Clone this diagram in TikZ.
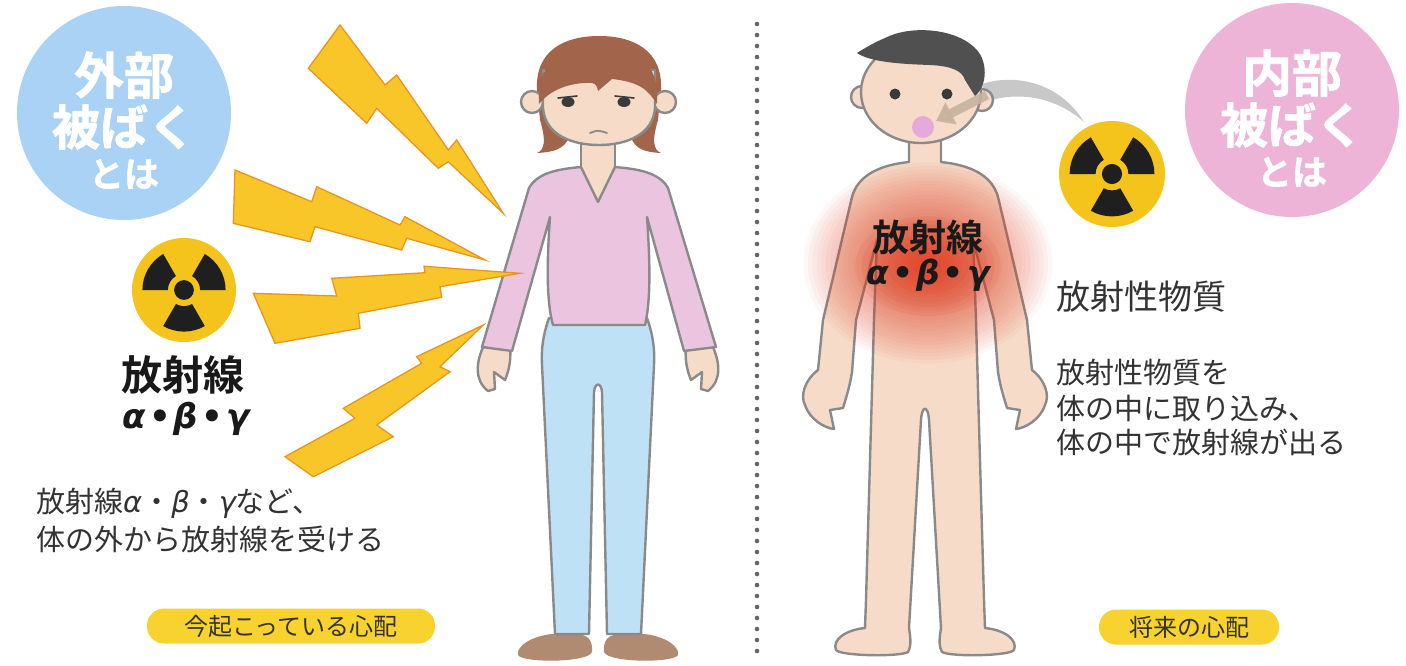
\documentclass[tikz,border=0pt]{standalone}
\usepackage{fontspec}
\setmainfont{Noto Sans CJK JP}[BoldFont={Noto Sans CJK JP Bold}]
\newfontfamily\jpheavy{Noto Sans CJK JP Bold}[FakeBold=1.6]
\newfontfamily\grk{DejaVu Sans}
\usetikzlibrary{arrows.meta}

\definecolor{bubbleblue}{HTML}{A9D2F5}
\definecolor{bubblepink}{HTML}{EEB4D8}
\definecolor{radyellow}{HTML}{F5C41C}
\definecolor{boltyellow}{HTML}{F9C62A}
\definecolor{boltorange}{HTML}{E8951E}
\definecolor{pillyellow}{HTML}{F8D22E}
\definecolor{skin}{HTML}{F6DBC8}
\definecolor{hairbrown}{HTML}{A2644A}
\definecolor{shirtpink}{HTML}{EBC5DF}
\definecolor{pantsblue}{HTML}{BEE1F6}
\definecolor{shoebrown}{HTML}{B08B72}
\definecolor{linegray}{HTML}{8A8A8A}
\definecolor{manhair}{HTML}{505050}
\definecolor{eyedark}{HTML}{3A3A3A}
\definecolor{mouthpink}{HTML}{E6AADA}
\definecolor{arrowtan}{HTML}{C6B39E}
\definecolor{curvegray}{HTML}{C8C8C8}
\definecolor{glowred}{HTML}{E23A1E}
\definecolor{textgray}{HTML}{333333}
\definecolor{dotgray}{HTML}{666666}

\newcommand\fsz[1]{\fontsize{#1}{#1}\selectfont}
% alpha, beta, gamma with middle dots
\newcommand\abgbold{{\grk\bfseries\itshape α\kern3pt\upshape•\kern3pt\itshape β\kern3pt\upshape•\kern3pt\itshape γ}}
\newcommand\abglight{{\grk\itshape α}・{\grk\itshape β}・{\grk\itshape γ}}

% radiation sign: centre x, centre y, radius
\newcommand\radsign[3]{%
  \fill[radyellow] (#1,#2) circle (#3);
  \fill[black!88] (#1,#2) circle ({0.19*#3});
  \foreach \a in {60,180,300}
    \fill[black!88] ([shift={(\a:{0.31*#3})}]#1,#2) -- ([shift={(\a:{0.8*#3})}]#1,#2)
      arc[start angle=\a, end angle=\a+60, radius={0.8*#3}]
      -- ([shift={(\a+60:{0.31*#3})}]#1,#2)
      arc[start angle=\a+60, end angle=\a, radius={0.31*#3}] -- cycle;
}

\tikzset{
  outl/.style={draw=linegray, line width=2.4pt},
  bolt/.style={fill=boltyellow, draw=boltorange, line width=1.3pt, line join=miter},
  bubble/.style={circle, inner sep=0pt, minimum size=214pt},
  bubbletext/.style={text=white, inner sep=0pt},
  pill/.style={fill=pillyellow, rounded corners=17pt, minimum height=35pt, inner sep=0pt,
    text=textgray, font=\fsz{24}},
  caption/.style={anchor=west, inner sep=0pt, text=textgray, font=\fsz{29}},
}

\begin{document}
\begin{tikzpicture}[x=1pt, y=-1pt, line cap=round, line join=round]
\fill[white] (0,0) rectangle (1406,665);
\useasboundingbox (0,0) rectangle (1406,665);

% ---- left half: external exposure ----
\node[bubble, fill=bubbleblue] (extbub) at (124,113) {};
\node[bubbletext, font=\jpheavy\fsz{50}] (extA) at (124,75) {外部};
\node[bubbletext, font=\jpheavy\fsz{48}] (extB) at (124,127) {被ばく};
\node[bubbletext, font=\jpheavy\fsz{35}] (extC) at (124,174) {とは};

\radsign{184}{290}{52}
\node[inner sep=0pt, font=\bfseries\fsz{41}, text=black!90] (raylabel) at (183,375) {放射線};
\node[inner sep=0pt, font=\fsz{34}, text=black!90] (rayabg) at (186,419) {\abgbold};

\node[caption] (extcapA) at (36,503) {放射線\abglight など、};
\node[caption] (extcapB) at (36,539) {体の外から放射線を受ける};
\node[pill, minimum width=288pt] (nowpill) at (291,626) {今起こっている心配};

% woman
\fill[shoebrown] (592,652) .. controls (593,640) and (588,634) .. (574,634) -- (552,634)
  .. controls (532,636) and (516,646) .. (518,655) .. controls (522,663) and (588,663) .. (592,652) -- cycle;
\fill[shoebrown] (604,652) .. controls (603,640) and (608,634) .. (622,634) -- (644,634)
  .. controls (664,636) and (680,646) .. (678,655) .. controls (674,663) and (608,663) .. (604,652) -- cycle;
\filldraw[outl, fill=pantsblue] (549,318) .. controls (543,335) and (541,350) .. (542,365) -- (555,634)
  -- (589,634) -- (594,392) .. controls (595,382) and (601,382) .. (602,392) -- (607,634) -- (641,634)
  -- (654,365) .. controls (655,350) and (653,335) .. (647,318) -- cycle;
\filldraw[outl, fill=skin] (484,345) .. controls (476,362) and (474,380) .. (488,391) -- (495,389)
  -- (494,372) -- (505,380) .. controls (510,368) and (511,358) .. (510,345) -- cycle;
\filldraw[outl, fill=skin] (712,345) .. controls (720,362) and (722,380) .. (708,391) -- (701,389)
  -- (702,372) -- (691,380) .. controls (686,368) and (685,358) .. (686,345) -- cycle;
\fill[skin] (581,135) -- (581,170) -- (598,204) -- (615,170) -- (615,135) -- cycle;
\filldraw[outl, fill=shirtpink] (581,167) .. controls (560,169) and (538,172) .. (529,188)
  -- (482,347) -- (512,351) -- (550,217) .. controls (547,260) and (546,300) .. (553,325)
  -- (645,325) .. controls (651,300) and (650,260) .. (647,217) -- (684,351) -- (716,347)
  -- (668,188) .. controls (659,172) and (637,169) .. (615,167) -- (598,202) -- cycle;
\draw[outl] (581,140) -- (581,167) (615,140) -- (615,167);
\fill[hairbrown] (537,153) .. controls (545,150) and (546,140) .. (540,120) -- (537,90)
  .. controls (535,50) and (565,36) .. (599,36) .. controls (633,36) and (663,50) .. (661,90)
  -- (658,120) .. controls (652,140) and (653,150) .. (661,153)
  .. controls (645,152) and (635,150) .. (630,135) -- (570,135)
  .. controls (565,150) and (553,152) .. (537,153) -- cycle;
\filldraw[outl, fill=skin] (532,102) circle (11) (665,102) circle (11);
\filldraw[outl, fill=skin] (543,70) -- (543,108) .. controls (545,135) and (572,145) .. (599,145)
  .. controls (626,145) and (653,135) .. (655,108) -- (655,70) -- cycle;
\fill[hairbrown] (539,104) .. controls (536,60) and (565,46) .. (599,46) .. controls (633,46) and (660,60) .. (657,104)
  .. controls (648,90) and (640,82) .. (612,79) -- (598,91) .. controls (597,86) and (596,84) .. (592,83)
  .. controls (570,82) and (550,90) .. (539,104) -- cycle;
\fill[eyedark] (568,102) ellipse [x radius=6.5, y radius=5] (624,102) ellipse [x radius=6.5, y radius=5];
\draw[eyedark, line width=1.6pt] (558,98) -- (577,96) (615,96) -- (634,98);
\draw[linegray, line width=1.8pt] (590,133) .. controls (598,130) .. (607,133);

% lightning bolts
\draw[bolt] (308.3,68.3) -- (340,25) -- (385,85) -- (396.7,75) -- (448.3,150) -- (456.7,140)
  -- (503.3,213.3) -- (448.3,161.7) -- (438.3,168.3) -- (376.7,108.3) -- (366.7,123.3) -- cycle;
\draw[bolt] (235,170) -- (311.7,201.7) -- (316.7,186.7) -- (400,225) -- (405,216.7) -- (485,260)
  -- (406.7,238.3) -- (401.7,250) -- (315,226.7) -- (310,241.7) -- (233.3,223.3) -- cycle;
\draw[bolt] (253.3,293.3) -- (336.7,296) -- (331.7,278.3) -- (425,272.7) -- (424,266.3) -- (520,273.3)
  -- (440,286.7) -- (441.7,297.3) -- (358.3,313.3) -- (360,328.3) -- (275,343.3) -- cycle;
\draw[bolt] (285,456.7) -- (355,418.3) -- (343.3,408.3) -- (421.7,363.3) -- (416.7,356.7) -- (483.3,325)
  -- (440,366.7) -- (450,371.7) -- (376.7,425) -- (393.3,436.7) -- (313.3,476.7) -- cycle;

% dotted divider
\foreach \k in {0,...,57}
  \fill[dotgray] (757,{24+11*\k}) circle (2.3);

% ---- right half: internal exposure ----
\node[bubble, fill=bubblepink] (intbub) at (1292,110) {};
\node[bubbletext, font=\jpheavy\fsz{50}] (intA) at (1292,73) {内部};
\node[bubbletext, font=\jpheavy\fsz{48}] (intB) at (1292,125) {被ばく};
\node[bubbletext, font=\jpheavy\fsz{35}] (intC) at (1292,172) {とは};

\radsign{1112}{174}{53}
\fill[curvegray] (982,84) .. controls (1012,74) and (1058,80) .. (1084,122)
  .. controls (1052,94) and (1014,92) .. (985,102) -- cycle;

% man
\filldraw[outl, fill=skin] (909,135) -- (909,162) .. controls (880,165) and (858,175) .. (852,197)
  -- (823,320) -- (818,370) .. controls (805,380) and (800,395) .. (805,405)
  .. controls (810,420) and (825,428) .. (834,429) -- (830,410) -- (843,408)
  .. controls (847,395) and (850,385) .. (852,372) -- (856,320) -- (877,240)
  -- (874,320) -- (866,600) -- (865,628) .. controls (845,630) and (832,640) .. (836,650)
  .. controls (840,656) and (900,657) .. (908,652) .. controls (912,645) and (910,635) .. (909,628)
  -- (921,420) .. controls (922,405) and (928,405) .. (929,420)
  -- (941,628) .. controls (940,635) and (938,645) .. (942,652)
  .. controls (950,657) and (1010,656) .. (1014,650) .. controls (1018,640) and (1005,630) .. (985,628)
  -- (984,600) -- (976,320) -- (973,240) -- (994,320) -- (998,372)
  .. controls (1000,385) and (1003,395) .. (1007,408) -- (1020,410) -- (1016,429)
  .. controls (1025,428) and (1040,420) .. (1045,405) .. controls (1050,395) and (1045,380) .. (1032,370)
  -- (1027,320) -- (998,197) .. controls (992,175) and (970,165) .. (941,162) -- (941,135) -- cycle;
% glow in the chest
\foreach \r in {1,...,26}
  \fill[glowred, opacity=0.04] (928,263) ellipse [x radius={10+4.4*\r}, y radius={7+3.6*\r}];
\foreach \r in {1,...,10}
  \fill[glowred, opacity=0.08] (928,266) ellipse [x radius={8+6.5*\r}, y radius={5+4.5*\r}];
\filldraw[outl, fill=skin] (862,97) circle (11) (982,100) circle (11);
\filldraw[outl, fill=skin] (921,92) ellipse [x radius=60, y radius=51];
\fill[manhair] (857,53) .. controls (870,62) and (900,64) .. (930,65) .. controls (950,66) and (962,70) .. (965,80)
  -- (975,96) .. controls (988,85) and (988,60) .. (975,48) .. controls (955,28) and (910,25) .. (885,38)
  .. controls (875,42) and (865,48) .. (857,53) -- cycle;
\fill[eyedark] (895,94) circle (5.5) (947,94) circle (5.5);
\fill[mouthpink] (923,127) circle (11);
\draw[arrowtan, opacity=0.9, line width=9pt, line cap=butt, -{Triangle[length=17pt, width=24pt]}]
  (987,95) -- (936,121);

\node[inner sep=0pt, font=\bfseries\fsz{37}, text=black!90] (glowlabel) at (928,237) {放射線};
\node[inner sep=0pt, font=\fsz{33}, text=black!90] (glowabg) at (928,275) {\abgbold};

\node[caption, font=\fsz{34}] (subst) at (1056,297) {放射性物質};
\node[caption] (intcapA) at (1056,373) {放射性物質を};
\node[caption] (intcapB) at (1056,408) {体の中に取り込み、};
\node[caption] (intcapC) at (1056,442) {体の中で放射線が出る};
\node[pill, minimum width=180pt] (futpill) at (1189,627) {将来の心配};
\end{tikzpicture}
\end{document}
